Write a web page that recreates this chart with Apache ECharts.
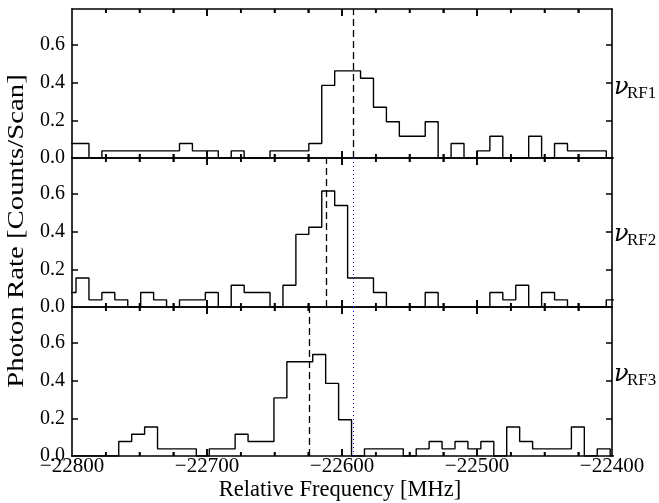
<!DOCTYPE html>
<html><head><meta charset="utf-8">
<script src="https://cdn.jsdelivr.net/npm/echarts@6/dist/echarts.min.js"></script>
<style>html,body{margin:0;padding:0;background:#fff}#c{width:659px;height:503px}</style>
</head><body><div id="c"></div>
<script>
// ---- data ----
const panelNames = ['RF1', 'RF2', 'RF3'];
const binWidth = 9.58;                 // MHz
const binStartRF1 = -22806.6;          // left edge of first bin
const binStartRF2 = -22806.6;
const binStartRF3 = -22803.7;
const rateRF1 = [0.077,0.077,0,0.038,0.038,0.038,0.038,0.038,0.038,0.077,0.038,0.038,0,0.038,0,0,0.038,0.038,0.038,0.077,0.385,0.462,0.462,0.423,0.269,0.192,0.115,0.115,0.192,0,0.077,0,0.038,0.115,0,0,0.115,0,0.077,0.038,0.038,0.038,0];
const rateRF2 = [0.077,0.154,0.038,0.077,0.038,0,0.077,0.038,0,0.038,0.038,0.077,0,0.115,0.077,0.077,0,0.115,0.385,0.423,0.615,0.538,0.154,0.154,0.077,0,0,0,0.077,0,0,0,0,0.077,0.038,0.115,0,0.077,0.038,0,0,0,0.038];
const rateRF3 = [0,0,0,0,0.077,0.115,0.154,0.038,0.038,0.038,0,0.038,0.038,0.115,0.077,0.077,0.308,0.5,0.5,0.538,0.385,0.192,0,0.038,0.038,0.038,0,0.038,0.077,0.038,0.077,0.038,0.077,0,0.154,0.077,0.038,0.038,0.038,0.154,0,0.038,0];
const centerRF1 = -22591.6;            // dashed lines
const centerRF2 = -22611.3;
const centerRF3 = -22624.2;
const refFreq = -22591.6;              // blue dotted line (panels 2,3)
const xMin = -22800, xMax = -22400, xStep = 100;
const xTickValues = [-22775,-22750,-22725,-22700,-22675,-22650,-22625,-22600,-22575,-22550,-22525,-22500,-22475,-22450,-22425];
const yMax = 0.79, yStep = 0.2;
const yTickValues = [0.2, 0.4, 0.6];

const FONT = 'Liberation Serif';
const starts = [binStartRF1, binStartRF2, binStartRF3];
const rates = [rateRF1, rateRF2, rateRF3];
const centers = [centerRF1, centerRF2, centerRF3];

function stepData(start, vals) {
  const d = vals.map((v, i) => [start + i * binWidth, v]);
  d.push([start + vals.length * binWidth, 0]);
  return d;
}
const minus = v => (v < 0 ? '\u2212' : '') + Math.abs(v);

const GRID_W = 540, GRID_H = 149;
const gridTops = [9, 158, 307];
const grids = gridTops.map(t => ({left: 72, width: GRID_W, top: t, height: GRID_H, outerBoundsMode: 'none'}));
const TICK = {stroke: '#000', lineWidth: 1.6};
// tick lengths expressed in axis units (px * units-per-px)
const perPxY = yMax / GRID_H, perPxX = (xMax - xMin) / GRID_W;

const xAxes = [], yAxes = [], series = [];
for (let i = 0; i < 3; i++) {
  ['bottom', 'top'].forEach(pos => {
    xAxes.push({
      type: 'value', gridIndex: i, position: pos, min: xMin, max: xMax, interval: xStep,
      axisLine: {show: true, onZero: false, lineStyle: {color: '#000', width: 1.6}},
      axisTick: {show: false}, minorTick: {show: false},
      splitLine: {show: false}, minorSplitLine: {show: false},
      axisLabel: {show: i === 2 && pos === 'bottom', margin: 0, color: '#000', fontFamily: FONT, fontSize: 21, formatter: minus}
    });
  });
  ['left', 'right'].forEach(pos => {
    yAxes.push({
      type: 'value', gridIndex: i, position: pos, min: 0, max: yMax, interval: yStep,
      axisLine: {show: true, onZero: false, lineStyle: {color: '#000', width: 1.6}},
      axisTick: {show: false},
      splitLine: {show: false},
      axisLabel: {show: pos === 'left', showMaxLabel: false, margin: 7, color: '#000', fontFamily: FONT, fontSize: 20,
                  formatter: v => v.toFixed(1)}
    });
  });
  const ml = [{xAxis: centers[i], lineStyle: {type: [7, 4], color: '#000', width: 1.3}}];
  if (i > 0) ml.push({xAxis: refFreq, lineStyle: {type: [1, 3], color: '#0000ff', width: 1}});
  // inward tick segments on all four panel edges
  xTickValues.forEach(v => {
    const len = (((v - xMin) % xStep === 0) ? 7 : 4) * perPxY;
    ml.push([{coord: [v, 0]}, {coord: [v, len]}]);
    ml.push([{coord: [v, yMax]}, {coord: [v, yMax - len]}]);
  });
  yTickValues.forEach(v => {
    const len = 6 * perPxX;
    ml.push([{coord: [xMin, v]}, {coord: [xMin + len, v]}]);
    ml.push([{coord: [xMax, v]}, {coord: [xMax - len, v]}]);
  });
  series.push({
    type: 'line', xAxisIndex: 2 * i, yAxisIndex: 2 * i, step: 'end', symbol: 'none', clip: true,
    lineStyle: {color: '#000', width: 1.4}, data: stepData(starts[i], rates[i]),
    markLine: {symbol: ['none', 'none'], silent: true, animation: false, label: {show: false},
               lineStyle: {type: 'solid', color: '#000', width: 1.5}, data: ml},
    animation: false
  });
  // same inward ticks through a custom series
  series.push({
    type: 'custom', xAxisIndex: 2 * i, yAxisIndex: 2 * i, silent: true, animation: false, z: 5,
    data: xTickValues.map(v => [v, 0]),
    renderItem: (params, api) => {
      const v = api.value(0);
      const b = api.coord([v, 0]);
      const t = api.coord([v, yMax]);
      const len = ((v - xMin) % xStep === 0) ? 7 : 4;
      return {type: 'group', children: [
        {type: 'line', shape: {x1: b[0], y1: b[1], x2: b[0], y2: b[1] - len}, style: TICK},
        {type: 'line', shape: {x1: t[0], y1: t[1], x2: t[0], y2: t[1] + len}, style: TICK}
      ]};
    }
  });
}

const nuY = [88, 235, 375];
const graphic = [
  {type: 'text', x: 340, y: 490, style: {text: 'Relative Frequency [MHz]', fontFamily: FONT, fontSize: 22.5, fill: '#000', align: 'center', verticalAlign: 'middle'}},
  {type: 'text', x: 17, y: 231, rotation: Math.PI / 2, scaleX: 1.2, style: {text: 'Photon Rate [Counts/Scan]', fontFamily: FONT, fontSize: 24, fill: '#000', align: 'center', verticalAlign: 'middle'}}
];
panelNames.forEach((n, i) => {
  graphic.push({type: 'text', x: 614, y: nuY[i], style: {text: 'ν', fontFamily: 'DejaVu Serif', fontStyle: 'italic', fontSize: 24, fill: '#000', align: 'left', verticalAlign: 'middle'}});
  graphic.push({type: 'text', x: 627, y: nuY[i] + 6, style: {text: n, fontFamily: FONT, fontSize: 17, fill: '#000', align: 'left', verticalAlign: 'middle'}});
});

const chart = echarts.init(document.getElementById('c'), null, {renderer: 'canvas'});
chart.setOption({
  animation: false, backgroundColor: '#fff',
  grid: grids, xAxis: xAxes, yAxis: yAxes, series: series, graphic: graphic
});
</script></body></html>
